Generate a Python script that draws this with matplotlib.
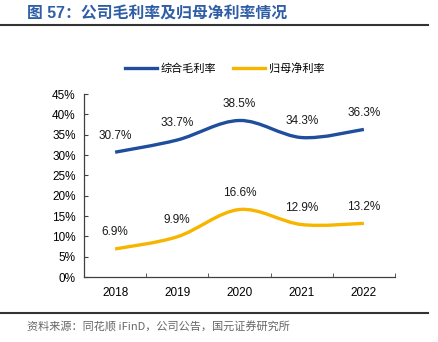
import numpy as np
import matplotlib.pyplot as plt
from matplotlib.path import Path
from matplotlib.patches import PathPatch
from matplotlib.lines import Line2D

plt.rcParams['font.family'] = ['Liberation Sans', 'Noto Sans CJK SC', 'DejaVu Sans']

years = ["2018", "2019", "2020", "2021", "2022"]
gross_margin = [30.7, 33.7, 38.5, 34.3, 36.3]
net_margin = [6.9, 9.9, 16.6, 12.9, 13.2]
series_names = ["综合毛利率", "归母净利率"]
colors = ["#1f4e9c", "#f7b500"]


def smooth_path(xs, ys):
    # Catmull-Rom segments turned into cubic Bezier control points
    xs = list(xs)
    ys = list(ys)
    verts = [(xs[0], ys[0])]
    codes = [Path.MOVETO]
    n = len(xs)
    for i in range(n - 1):
        x0, y0 = (xs[i - 1], ys[i - 1]) if i > 0 else (xs[i], ys[i])
        x1, y1 = xs[i], ys[i]
        x2, y2 = xs[i + 1], ys[i + 1]
        x3, y3 = (xs[i + 2], ys[i + 2]) if i + 2 < n else (x2, y2)
        t = 6.0
        c1 = (x1 + (x2 - x0) / t, y1 + (y2 - y0) / t)
        c2 = (x2 - (x3 - x1) / t, y2 - (y3 - y1) / t)
        verts += [c1, c2, (x2, y2)]
        codes += [Path.CURVE4] * 3
    return Path(verts, codes)


fig = plt.figure(figsize=(4.38, 3.42), dpi=100)
ax = fig.add_axes([0.1918, 0.19, 0.71, 0.535])

x = np.arange(len(years))
for vals, c in zip([gross_margin, net_margin], colors):
    patch = PathPatch(smooth_path(x, vals), facecolor="none", edgecolor=c,
                      lw=2.4, capstyle="butt")
    ax.add_patch(patch)
    for xi, v in zip(x, vals):
        ax.annotate(f"{v:.1f}%", (xi, v), xytext=(0, 12), textcoords="offset points",
                    ha="center", va="center", fontsize=8.5, color="#1a1a1a")

ax.set_xlim(-0.5, len(years) - 0.5)
ax.set_ylim(0, 45)
ax.set_yticks(range(0, 46, 5))
ax.set_yticklabels([f"{v}%" for v in range(0, 46, 5)], fontsize=8.5)
ax.set_xticks(x)
ax.set_xticklabels(years, fontsize=8.5)
ax.set_xticks(np.arange(0.5, len(years) - 0.4, 1), minor=True)
ax.tick_params(axis="x", which="major", length=0, pad=7)
ax.tick_params(axis="x", which="minor", direction="in", length=3, color="#404040")
ax.tick_params(axis="y", direction="in", length=3, color="#404040", pad=6)
for s in ["top", "right"]:
    ax.spines[s].set_visible(False)
for s in ["left", "bottom"]:
    ax.spines[s].set_color("#404040")
    ax.spines[s].set_linewidth(0.9)

handles = [Line2D([], [], color=c, lw=2.4) for c in colors]
fig.legend(handles, series_names, loc="center", bbox_to_anchor=(0.513, 0.8),
           ncol=2, frameon=False, handlelength=2.9,
           columnspacing=1.5, handletextpad=0.35,
           prop={"family": ["Noto Sans CJK SC"], "size": 8})

fig.text(0.062, 0.958, "图 57：公司毛利率及归母净利率情况", fontsize=11.4,
         fontweight="bold", color="#2f5ea6", va="center",
         family=["Liberation Sans", "Noto Sans CJK SC"])
fig.add_artist(Line2D([0, 0.977], [0.928, 0.928], color="#333333", lw=1.5))
fig.add_artist(Line2D([0, 0.977], [0.085, 0.085], color="#333333", lw=1.5))
fig.text(0.062, 0.043, "资料来源：同花顺 iFinD，公司公告，国元证券研究所", fontsize=8,
         color="#666666", va="center", family=["Noto Sans CJK SC", "Liberation Sans"])

fig.savefig("out.png", dpi=100)
